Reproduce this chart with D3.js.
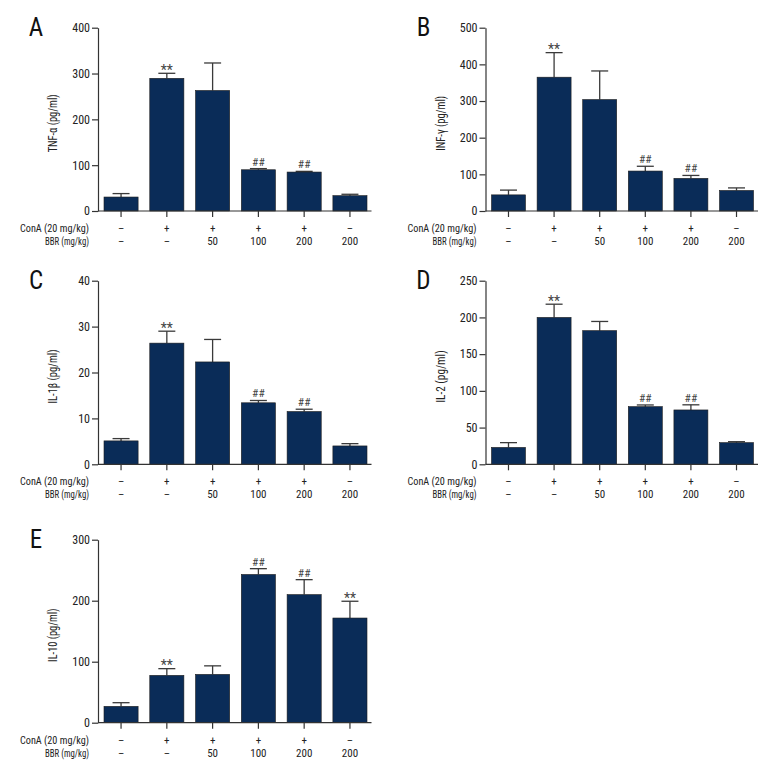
<!DOCTYPE html>
<html>
<head>
<meta charset="utf-8">
<script src="https://cdn.jsdelivr.net/npm/d3@7"></script>
<style>
  html, body { margin: 0; padding: 0; background: #fff; }
  svg { display: block; }
  text { font-family: "Liberation Sans Narrow", "Roboto Condensed", "DejaVu Sans Condensed", sans-serif; fill: #222; }
</style>
</head>
<body>
<svg id="chart" width="780" height="780"></svg>
<script>
// ---- Data ----
const groups = ["G1", "G2", "G3", "G4", "G5", "G6"];
const conaRow = ["–", "+", "+", "+", "+", "–"];
const bbrRow = ["–", "–", "50", "100", "200", "200"];
const conaLabel = "ConA (20 mg/kg)";
const bbrLabel = "BBR (mg/kg)";

const panelLetters = ["A", "B", "C", "D", "E"];
const yTitles = ["TNF-α (pg/ml)", "INF-γ (pg/ml)", "IL-1β (pg/ml)", "IL-2 (pg/ml)", "IL-10 (pg/ml)"];

const tnfMean = [30.5, 289.5, 263, 90, 85, 33.5];
const tnfSem  = [7.5, 11, 60, 2.5, 1.5, 3];
const tnfMarks = ["", "**", "", "##", "##", ""];
const tnfTicks = [0, 100, 200, 300, 400];

const infMean = [44, 365, 304, 109, 89, 56];
const infSem  = [13, 67, 78, 13, 8, 7];
const infMarks = ["", "**", "", "##", "##", ""];
const infTicks = [0, 100, 200, 300, 400, 500];

const il1Mean = [5.1, 26.4, 22.3, 13.4, 11.5, 4.0];
const il1Sem  = [0.5, 2.6, 4.9, 0.5, 0.5, 0.5];
const il1Marks = ["", "**", "", "##", "##", ""];
const il1Ticks = [0, 10, 20, 30, 40];

const il2Mean = [23, 200, 182, 78.5, 74, 29.5];
const il2Sem  = [6.5, 18, 12.5, 2.3, 7, 1.3];
const il2Marks = ["", "**", "", "##", "##", ""];
const il2Ticks = [0, 50, 100, 150, 200, 250];

const il10Mean = [26.8, 77.6, 79.2, 243, 210, 171.6];
const il10Sem  = [6, 11, 14, 9.5, 24.5, 27.5];
const il10Marks = ["", "**", "", "##", "##", "**"];
const il10Ticks = [0, 100, 200, 300];

// ---- Layout ----
const barColor = "#0a2c58";
const axisColor = "#333";
const cols = [{ axisX: 98, xEnd: 371.5 }, { axisX: 485.5, xEnd: 758 }];
const rows = [{ top: 27.7, zero: 211 }, { top: 280.7, zero: 464.3 }, { top: 539.7, zero: 722.7 }];
const titleLengths = [58, 55, 54, 52.5, 53.5];

const panels = [
  { mean: tnfMean, sem: tnfSem, marks: tnfMarks, ticks: tnfTicks, col: 0, row: 0 },
  { mean: infMean, sem: infSem, marks: infMarks, ticks: infTicks, col: 1, row: 0 },
  { mean: il1Mean, sem: il1Sem, marks: il1Marks, ticks: il1Ticks, col: 0, row: 1 },
  { mean: il2Mean, sem: il2Sem, marks: il2Marks, ticks: il2Ticks, col: 1, row: 1 },
  { mean: il10Mean, sem: il10Sem, marks: il10Marks, ticks: il10Ticks, col: 0, row: 2 }
];

const svg = d3.select("#chart");

panels.forEach((p, i) => {
  const c = cols[p.col], r = rows[p.row];
  const g = svg.append("g");

  const y = d3.scaleLinear()
    .domain([0, d3.max(p.ticks)])
    .range([r.zero, r.top]);
  const x = d3.scaleBand()
    .domain(groups)
    .range([c.axisX + 6, c.xEnd - 4.5])
    .paddingInner(0.255)
    .paddingOuter(0);

  // error bars (upper only)
  const capHalf = 8.5;
  groups.forEach((gName, k) => {
    const cx = x(gName) + x.bandwidth() / 2;
    const yTop = y(p.mean[k] + p.sem[k]);
    g.append("line")
      .attr("x1", cx).attr("x2", cx)
      .attr("y1", y(p.mean[k])).attr("y2", yTop)
      .attr("stroke", "#3a3a3a").attr("stroke-width", 1.3);
    g.append("line")
      .attr("x1", cx - capHalf).attr("x2", cx + capHalf)
      .attr("y1", yTop).attr("y2", yTop)
      .attr("stroke", "#3a3a3a").attr("stroke-width", 1.3);
    if (p.marks[k]) {
      const isStar = p.marks[k] === "**";
      g.append("text")
        .attr("x", cx)
        .attr("y", yTop - (isStar ? -1.5 : 3))
        .attr("text-anchor", "middle")
        .attr("font-size", isStar ? 14 : 11.5)
        .style("fill", "#444")
        .text(p.marks[k]);
    }
  });

  // bars
  g.selectAll("rect.bar")
    .data(groups)
    .join("rect")
    .attr("class", "bar")
    .attr("x", d => x(d))
    .attr("width", x.bandwidth())
    .attr("y", (d, k) => y(p.mean[k]))
    .attr("height", (d, k) => r.zero - y(p.mean[k]))
    .attr("fill", barColor)
    .attr("stroke", "#1c1c1c")
    .attr("stroke-width", 0.6);

  // y axis
  const yAxis = d3.axisLeft(y).tickValues(p.ticks).tickSize(6).tickPadding(2).tickSizeOuter(0);
  const ya = g.append("g").attr("transform", `translate(${c.axisX},0)`).call(yAxis);
  ya.select(".domain").attr("stroke", axisColor).attr("stroke-width", 1.2);
  ya.selectAll(".tick line").attr("stroke", axisColor).attr("stroke-width", 1.2);
  ya.selectAll(".tick text").attr("font-size", 12)
    .style("font-family", '"Liberation Sans Narrow", "Roboto Condensed", "DejaVu Sans Condensed", sans-serif')
    .style("fill", "#222");

  // x axis baseline with ticks at bar centers
  g.append("line")
    .attr("x1", c.axisX).attr("x2", c.xEnd)
    .attr("y1", r.zero).attr("y2", r.zero)
    .attr("stroke", axisColor).attr("stroke-width", 1.2);
  groups.forEach(gName => {
    const cx = x(gName) + x.bandwidth() / 2;
    g.append("line")
      .attr("x1", cx).attr("x2", cx)
      .attr("y1", r.zero).attr("y2", r.zero + 6)
      .attr("stroke", axisColor).attr("stroke-width", 1.2);
  });

  // treatment rows
  const row1Y = r.zero + 21, row2Y = r.zero + 34;
  g.append("text").attr("x", c.axisX - 78).attr("y", row1Y)
    .attr("textLength", 69).attr("lengthAdjust", "spacingAndGlyphs")
    .attr("font-size", 11.5).text(conaLabel);
  g.append("text").attr("x", c.axisX - 53).attr("y", row2Y)
    .attr("textLength", 44).attr("lengthAdjust", "spacingAndGlyphs")
    .attr("font-size", 11.5).text(bbrLabel);
  groups.forEach((gName, k) => {
    const cx = x(gName) + x.bandwidth() / 2;
    g.append("text").attr("x", cx).attr("y", row1Y)
      .attr("text-anchor", "middle").attr("font-size", 11).style("fill", "#222").text(conaRow[k]);
    g.append("text").attr("x", cx).attr("y", row2Y)
      .attr("text-anchor", "middle").attr("font-size", 11).style("fill", "#222").text(bbrRow[k]);
  });

  // y title
  const ty = (r.top + r.zero) / 2 + 4;
  const tl = titleLengths[i];
  g.append("text")
    .attr("transform", `translate(${c.axisX - 41},${ty}) rotate(-90)`)
    .attr("x", -tl / 2)
    .attr("textLength", tl).attr("lengthAdjust", "spacingAndGlyphs")
    .attr("font-size", 13)
    .text(yTitles[i]);

  // panel letter
  g.append("text")
    .attr("x", c.axisX - 62).attr("y", r.top + 8.5)
    .attr("text-anchor", "middle")
    .attr("font-size", 25)
    .style("fill", "#111")
    .text(panelLetters[i]);
});
</script>
</body>
</html>
